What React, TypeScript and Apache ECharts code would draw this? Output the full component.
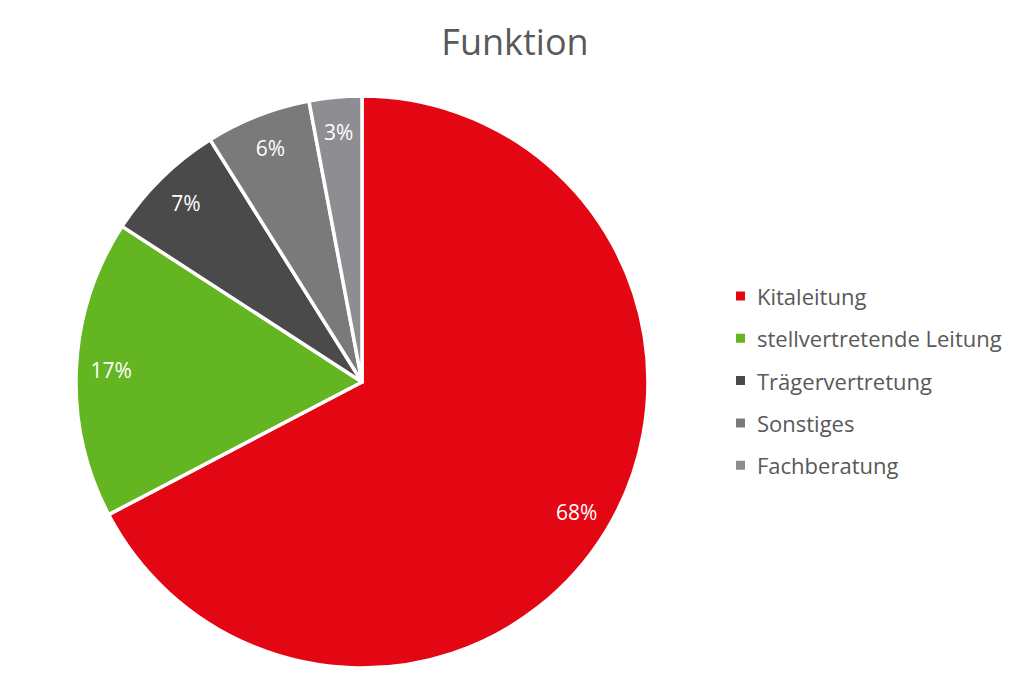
import React, { useEffect, useRef } from "react";
import * as echarts from "echarts";

const categories = ["Kitaleitung", "stellvertretende Leitung", "Trägervertretung", "Sonstiges", "Fachberatung"];
const values = [68, 17, 7, 6, 3];
const colors = ["#E30613", "#63B521", "#4A4A4A", "#7A7A7A", "#8E8D91"];

export default function App() {
  const ref = useRef<HTMLDivElement>(null);
  useEffect(() => {
    if (!ref.current) return;
    const chart = echarts.init(ref.current, undefined, { renderer: "svg" });
    const font = "'Open Sans', Lato, sans-serif";
    const data = categories.map((name, i) => ({ name, value: values[i], itemStyle: { color: colors[i] } }));
    chart.setOption({
      animation: false,
      backgroundColor: "#ffffff",
      title: {
        text: "Funktion",
        left: 502,
        textAlign: "center",
        top: 10,
        textStyle: { fontFamily: font, fontSize: 36, fontWeight: "normal", color: "#595959" },
      },
      legend: {
        orient: "vertical",
        left: 721,
        top: 272,
        itemWidth: 11,
        itemHeight: 11,
        itemGap: 20.3,
        icon: "rect",
        data: categories,
        textStyle: { fontFamily: font, fontSize: 22, color: "#595959", lineHeight: 20, padding: [0, 0, 0, 6] },
      },
      series: [
        {
          type: "pie",
          center: [354, 374],
          radius: [0, 286],
          startAngle: 90,
          clockwise: true,
          data,
          label: { show: false },
          labelLine: { show: false },
          itemStyle: { borderColor: "#ffffff", borderWidth: 3.5 },
          emphasis: { disabled: true },
        },
        {
          type: "pie",
          center: [354, 374],
          radius: [206, 290],
          startAngle: 90,
          clockwise: true,
          silent: true,
          data: categories.map((name, i) => ({ name, value: values[i], itemStyle: { color: "transparent" } })),
          label: {
            show: true,
            position: "inside",
            formatter: (p: any) => p.value + "%",
            fontFamily: font,
            fontSize: 21,
            color: "#ffffff",
          },
          labelLine: { show: false },
          legendHoverLink: false,
          emphasis: { disabled: true },
        },
      ],
    });
    return () => chart.dispose();
  }, []);
  return <div ref={ref} style={{ width: 1024, height: 692 }} />;
}
